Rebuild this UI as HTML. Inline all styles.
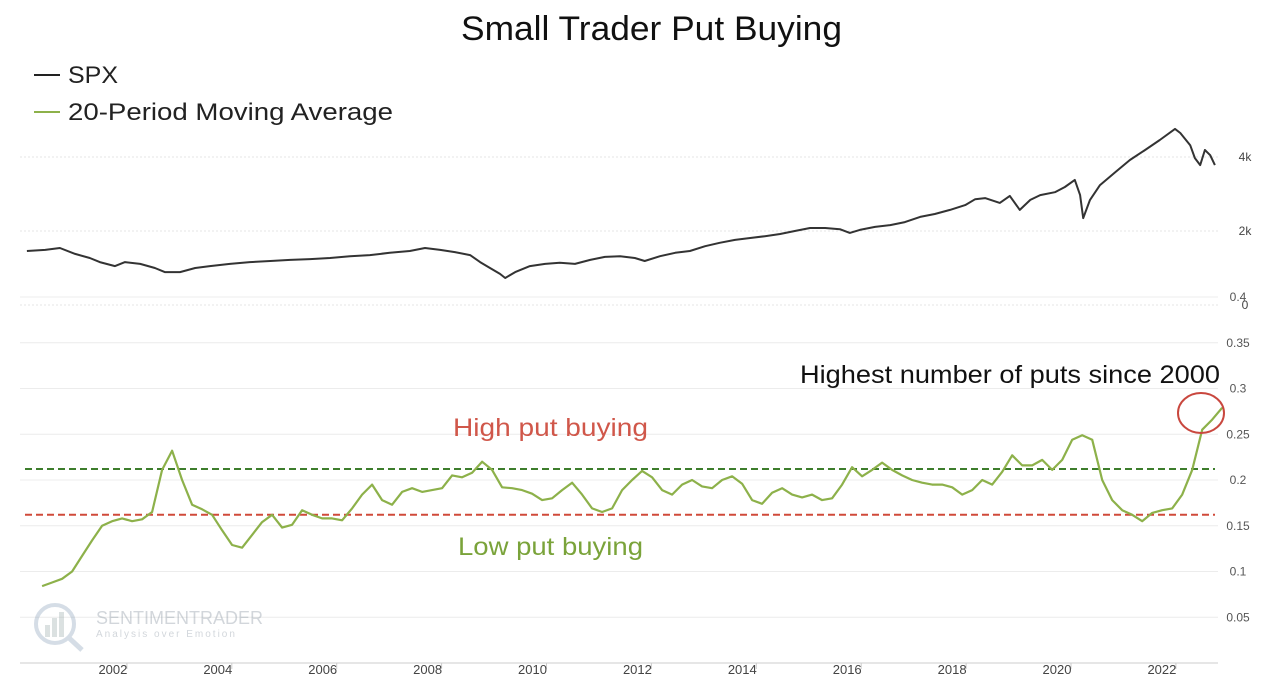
<!DOCTYPE html>
<html><head><meta charset="utf-8">
<style>
html,body{margin:0;padding:0;background:#fff;}
body{width:1280px;height:693px;overflow:hidden;font-family:"Liberation Sans",sans-serif;}
svg text{font-family:"Liberation Sans",sans-serif;}
</style></head>
<body>
<svg id="chart" width="1280" height="693" viewBox="0 0 1280 693" xmlns="http://www.w3.org/2000/svg">
  <text x="461" y="40" textLength="381" lengthAdjust="spacingAndGlyphs" font-size="34" fill="#111">Small Trader Put Buying</text>
  <g>
    <g>
      <line x1="34" y1="75" x2="60" y2="75" stroke="#222" stroke-width="2"/>
      <text x="68" y="83" font-size="24" textLength="50" lengthAdjust="spacingAndGlyphs" fill="#222">SPX</text>
    </g>
    <g>
      <line x1="34" y1="112" x2="60" y2="112" stroke="#8db14a" stroke-width="2"/>
      <text x="68" y="120" font-size="24" textLength="325" lengthAdjust="spacingAndGlyphs" fill="#222">20-Period Moving Average</text>
    </g>
  </g>
  <g id="grid"></g>
  <g id="axes"></g>
  <g opacity="0.35">
    <circle cx="55" cy="624" r="19" fill="none" stroke="#8aa0b8" stroke-width="4"/>
    <line x1="68" y1="637" x2="82" y2="650" stroke="#8aa0b8" stroke-width="5"/>
    <rect x="45" y="625" width="5" height="12" fill="#9aa"/><rect x="52" y="618" width="5" height="19" fill="#9aa"/><rect x="59" y="612" width="5" height="25" fill="#9aa"/>
    <text x="96" y="624" font-size="18" fill="#7f8c99">SENTIMENTRADER</text>
    <text x="96" y="637" font-size="10" fill="#7f8c99" letter-spacing="2">Analysis over Emotion</text>
  </g>
  <g id="series"></g>
  <text x="453" y="436" font-size="25" textLength="195" lengthAdjust="spacingAndGlyphs" fill="#d0574a">High put buying</text>
  <text x="458" y="555" font-size="25" textLength="185" lengthAdjust="spacingAndGlyphs" fill="#7aa33a">Low put buying</text>
  <text x="800" y="383" font-size="25" textLength="420" lengthAdjust="spacingAndGlyphs" fill="#111">Highest number of puts since 2000</text>
  <ellipse cx="1201" cy="413" rx="23" ry="20" fill="none" stroke="#c9473e" stroke-width="2"/>
</svg>
<script>
const spxDates=[2000.36,2000.71,2000.99,2001.28,2001.56,2001.75,2002.04,2002.23,2002.52,2002.80,2002.99,2003.28,2003.57,2003.85,2004.23,2004.61,2005.00,2005.38,2005.76,2006.14,2006.52,2006.90,2007.28,2007.66,2007.95,2008.24,2008.52,2008.81,2009.00,2009.19,2009.38,2009.48,2009.67,2009.95,2010.24,2010.52,2010.81,2011.10,2011.38,2011.67,2011.95,2012.14,2012.43,2012.72,2013.00,2013.29,2013.57,2013.86,2014.15,2014.43,2014.72,2015.00,2015.29,2015.58,2015.86,2016.05,2016.24,2016.53,2016.82,2017.10,2017.39,2017.67,2017.96,2018.25,2018.44,2018.63,2018.91,2019.10,2019.29,2019.49,2019.68,2019.96,2020.15,2020.34,2020.44,2020.50,2020.63,2020.82,2021.11,2021.39,2021.68,2021.96,2022.25,2022.35,2022.54,2022.63,2022.73,2022.82,2022.92,2023.01];
const spxValues=[1460,1490,1540,1380,1270,1160,1050,1160,1110,1000,890,890,1000,1050,1110,1160,1190,1220,1240,1270,1320,1350,1410,1460,1540,1490,1430,1350,1160,1000,840,730,890,1050,1110,1140,1110,1220,1300,1320,1270,1190,1320,1410,1460,1590,1680,1760,1810,1860,1920,2000,2080,2080,2050,1950,2030,2110,2160,2240,2380,2460,2570,2700,2860,2890,2760,2950,2570,2840,2970,3050,3190,3380,2970,2350,2840,3240,3590,3920,4190,4460,4760,4650,4320,3970,3780,4190,4050,3780];
const maStart=2000.65;
const maStep=0.19067;
const maValues=[.084,.088,.092,.100,.117,.134,.150,.155,.158,.155,.157,.165,.211,.232,.200,.173,.168,
.162,.145,.129,.126,.140,.154,.162,.148,.151,.167,.162,.158,.158,.156,.169,.184,.195,.178,.173,.187,.191,.187,.189,.191,.205,.203,.208,.220,.211,.192,.191,.189,.185,.178,.180,.189,.197,.184,.169,.165,.169,.189,.200,.210,.203,.189,.184,.195,.200,.193,.191,.200,.204,.196,.178,.174,.186,.191,.184,.181,.184,.178,.180,.195,.214,.204,.211,.219,.211,.205,.200,.197,.195,.195,.192,.184,.189,.200,.195,.209,.227,.216,.216,.222,.211,.222,.244,.249,.244,.200,.178,.167,.162,.155,.164,.167,.169,.184,.211,.255,.266,.279];
const xTicks=[2002,2004,2006,2008,2010,2012,2014,2016,2018,2020,2022];
const spxTicks=[0,2000,4000];
const spxTickLabels=["0","2k","4k"];
const maTicks=[0.05,0.1,0.15,0.2,0.25,0.3,0.35,0.4];
const maTickLabels=["0.05","0.1","0.15","0.2","0.25","0.3","0.35","0.4"];
const highLevel=0.212;
const lowLevel=0.162;

const NS="http://www.w3.org/2000/svg";
const X=t=>8+(t-2000)*52.45;
const YS=v=>305-v*0.037;
const YM=v=>663-v*915;
const L=20,R=1218;
function mk(tag,attrs,parent){const e=document.createElementNS(NS,tag);for(const k in attrs)e.setAttribute(k,attrs[k]);parent.appendChild(e);return e;}
const grid=document.getElementById('grid'),axes=document.getElementById('axes'),series=document.getElementById('series');

spxTicks.forEach((v,i)=>{
  const g=mk('line',{x1:L,x2:R,y1:YS(v),y2:YS(v),stroke:'#e4e4e4','stroke-width':1,'stroke-dasharray':'2 2'},grid);
  
  
  const t=mk('text',{x:1245,y:YS(v)+4,'text-anchor':'middle','font-size':12,fill:'#444'},axes);
  
  
  t.textContent=spxTickLabels[i];
});
maTicks.forEach((v,i)=>{
  const g=mk('line',{x1:L,x2:R,y1:YM(v),y2:YM(v),stroke:'#ececec','stroke-width':1},grid);
  
  
  const t=mk('text',{x:1238,y:YM(v)+4,'text-anchor':'middle','font-size':12,fill:'#555'},axes);
  
  
  t.textContent=maTickLabels[i];
});
const ax=mk('line',{x1:L,x2:R,y1:663,y2:663,stroke:'#ccc','stroke-width':1},axes);


xTicks.forEach(yr=>{
  const tk=mk('line',{x1:X(yr)+14,x2:X(yr)+14,y1:663,y2:669,stroke:'#ccc'},axes);
  
  
  const t=mk('text',{x:X(yr),y:674,'text-anchor':'middle','font-size':13,fill:'#444'},axes);
  
  
  t.textContent=String(yr);
});
const hl=mk('line',{x1:25,x2:1215,y1:YM(highLevel),y2:YM(highLevel),stroke:'#3d7d2c','stroke-width':2,'stroke-dasharray':'7 4'},series);


const ll=mk('line',{x1:25,x2:1215,y1:YM(lowLevel),y2:YM(lowLevel),stroke:'#d04a3a','stroke-width':2,'stroke-dasharray':'7 4'},series);



let d='';
spxDates.forEach((t,i)=>{d+=(i?'L':'M')+X(t).toFixed(1)+' '+YS(spxValues[i]).toFixed(1);});
const sp=mk('path',{d:d,fill:'none',stroke:'#333','stroke-width':2,'stroke-linejoin':'round'},series);



let d2='';
maValues.forEach((v,i)=>{const t=maStart+i*maStep;d2+=(i?'L':'M')+X(t).toFixed(1)+' '+YM(v).toFixed(1);});
const ma=mk('path',{d:d2,fill:'none',stroke:'#8db14a','stroke-width':2.2,'stroke-linejoin':'round'},series);


</script>
</body></html>
